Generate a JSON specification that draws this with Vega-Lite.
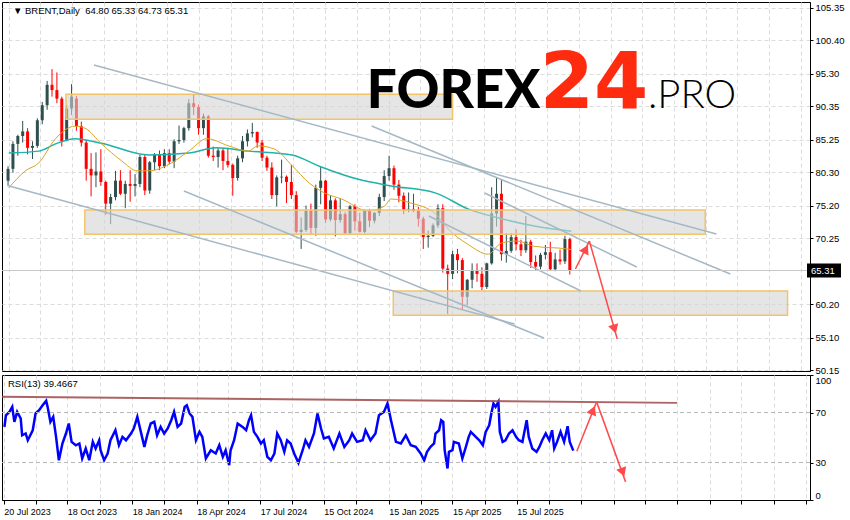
{
"$schema":"https://vega.github.io/schema/vega-lite/v6.json",
"padding":{"left":1,"top":1,"right":0,"bottom":0},
"background":"white",
"spacing":4,
"bounds":"flush",
"config":{"view":{"stroke":"#000","strokeWidth":1},"font":"Liberation Sans","axis":{"labelFont":"Liberation Sans","labelFontSize":9.5,"labelColor":"#000","domainColor":"#000","tickColor":"#000","gridColor":"#dcdcdc","gridDash":[4,3],"labelOverlap":false}},
"datasets":{
"candles":[
{"d":"2023-07-19","o":79.0,"h":81.2,"l":78.3,"c":80.8},
{"d":"2023-07-26","o":80.8,"h":85.0,"l":80.2,"c":84.6},
{"d":"2023-08-02","o":84.6,"h":86.0,"l":82.8,"c":85.8},
{"d":"2023-08-09","o":85.8,"h":88.1,"l":84.8,"c":86.5},
{"d":"2023-08-16","o":86.5,"h":87.0,"l":83.0,"c":84.0},
{"d":"2023-08-23","o":84.0,"h":85.0,"l":82.3,"c":84.3},
{"d":"2023-08-30","o":84.3,"h":88.5,"l":84.0,"c":88.2},
{"d":"2023-09-06","o":88.2,"h":91.0,"l":87.6,"c":90.5},
{"d":"2023-09-13","o":90.5,"h":94.2,"l":89.8,"c":93.6},
{"d":"2023-09-20","o":93.6,"h":96.0,"l":91.8,"c":92.8},
{"d":"2023-09-27","o":92.8,"h":95.5,"l":90.8,"c":91.5},
{"d":"2023-10-04","o":91.5,"h":91.8,"l":84.2,"c":85.0},
{"d":"2023-10-11","o":85.2,"h":90.5,"l":85.0,"c":90.0},
{"d":"2023-10-18","o":90.0,"h":93.7,"l":89.0,"c":91.8},
{"d":"2023-10-25","o":91.5,"h":91.9,"l":86.6,"c":87.3},
{"d":"2023-11-01","o":87.3,"h":88.0,"l":84.2,"c":84.8},
{"d":"2023-11-08","o":84.8,"h":85.2,"l":79.0,"c":80.8},
{"d":"2023-11-15","o":80.8,"h":83.2,"l":76.6,"c":79.8},
{"d":"2023-11-22","o":79.8,"h":83.3,"l":78.0,"c":80.4},
{"d":"2023-11-29","o":80.4,"h":83.8,"l":78.2,"c":78.8},
{"d":"2023-12-06","o":78.8,"h":79.0,"l":73.8,"c":75.5},
{"d":"2023-12-13","o":75.5,"h":77.0,"l":72.4,"c":76.5},
{"d":"2023-12-20","o":76.5,"h":80.5,"l":76.0,"c":79.0},
{"d":"2023-12-27","o":79.0,"h":80.6,"l":76.8,"c":77.0},
{"d":"2024-01-03","o":77.0,"h":79.0,"l":74.8,"c":78.5},
{"d":"2024-01-10","o":78.5,"h":80.6,"l":75.8,"c":78.2},
{"d":"2024-01-17","o":78.2,"h":80.0,"l":76.6,"c":78.5},
{"d":"2024-01-24","o":78.5,"h":83.0,"l":78.0,"c":82.6},
{"d":"2024-01-31","o":82.6,"h":83.0,"l":76.8,"c":77.5},
{"d":"2024-02-07","o":77.5,"h":82.0,"l":77.0,"c":81.8},
{"d":"2024-02-14","o":81.8,"h":83.2,"l":80.6,"c":83.0},
{"d":"2024-02-21","o":83.0,"h":83.6,"l":80.6,"c":81.2},
{"d":"2024-02-28","o":81.2,"h":83.8,"l":80.9,"c":83.2},
{"d":"2024-03-06","o":83.2,"h":83.8,"l":81.5,"c":81.9},
{"d":"2024-03-13","o":81.9,"h":85.3,"l":80.9,"c":85.0},
{"d":"2024-03-20","o":85.0,"h":87.4,"l":84.6,"c":85.2},
{"d":"2024-03-27","o":85.2,"h":87.2,"l":84.8,"c":87.0},
{"d":"2024-04-03","o":87.0,"h":91.4,"l":86.6,"c":90.8},
{"d":"2024-04-10","o":90.8,"h":92.2,"l":89.0,"c":90.2},
{"d":"2024-04-17","o":90.2,"h":90.6,"l":86.0,"c":87.0},
{"d":"2024-04-24","o":87.0,"h":89.2,"l":86.0,"c":88.8},
{"d":"2024-05-01","o":88.8,"h":89.0,"l":82.5,"c":82.8},
{"d":"2024-05-08","o":82.8,"h":84.2,"l":82.0,"c":82.6},
{"d":"2024-05-15","o":82.6,"h":84.0,"l":81.0,"c":83.6},
{"d":"2024-05-22","o":83.6,"h":84.0,"l":80.6,"c":82.0},
{"d":"2024-05-29","o":82.0,"h":84.0,"l":81.0,"c":81.4},
{"d":"2024-06-05","o":81.4,"h":81.6,"l":76.7,"c":79.4},
{"d":"2024-06-12","o":79.4,"h":82.8,"l":79.0,"c":82.4},
{"d":"2024-06-19","o":82.4,"h":85.8,"l":81.8,"c":85.0},
{"d":"2024-06-26","o":85.0,"h":86.8,"l":84.2,"c":86.2},
{"d":"2024-07-03","o":86.2,"h":87.8,"l":85.6,"c":86.4},
{"d":"2024-07-10","o":86.4,"h":86.5,"l":84.0,"c":84.8},
{"d":"2024-07-17","o":84.8,"h":85.2,"l":82.0,"c":82.5},
{"d":"2024-07-24","o":82.5,"h":82.8,"l":80.5,"c":81.0},
{"d":"2024-07-31","o":81.0,"h":81.8,"l":76.2,"c":76.8},
{"d":"2024-08-07","o":76.8,"h":79.8,"l":75.1,"c":79.5},
{"d":"2024-08-14","o":79.5,"h":82.2,"l":78.6,"c":79.6},
{"d":"2024-08-21","o":79.6,"h":79.8,"l":75.6,"c":78.8},
{"d":"2024-08-28","o":78.8,"h":81.4,"l":76.2,"c":76.8},
{"d":"2024-09-04","o":76.8,"h":77.4,"l":71.0,"c":71.2},
{"d":"2024-09-11","o":71.2,"h":73.4,"l":68.6,"c":71.5},
{"d":"2024-09-18","o":71.5,"h":75.2,"l":71.2,"c":74.4},
{"d":"2024-09-25","o":74.4,"h":75.5,"l":70.8,"c":71.8},
{"d":"2024-10-02","o":71.8,"h":78.4,"l":70.6,"c":77.9},
{"d":"2024-10-09","o":77.9,"h":81.2,"l":75.4,"c":79.0},
{"d":"2024-10-16","o":79.0,"h":79.1,"l":72.6,"c":73.1},
{"d":"2024-10-23","o":73.1,"h":76.7,"l":72.8,"c":76.0},
{"d":"2024-10-30","o":76.0,"h":76.3,"l":70.5,"c":73.0},
{"d":"2024-11-06","o":73.0,"h":76.3,"l":72.6,"c":73.9},
{"d":"2024-11-13","o":73.9,"h":74.2,"l":70.8,"c":71.0},
{"d":"2024-11-20","o":71.0,"h":75.3,"l":70.9,"c":75.1},
{"d":"2024-11-27","o":75.1,"h":75.4,"l":71.4,"c":72.8},
{"d":"2024-12-04","o":72.8,"h":74.1,"l":71.1,"c":71.2},
{"d":"2024-12-11","o":71.2,"h":74.6,"l":71.0,"c":74.4},
{"d":"2024-12-18","o":74.4,"h":74.7,"l":71.9,"c":72.9},
{"d":"2024-12-25","o":72.9,"h":74.2,"l":72.5,"c":74.1},
{"d":"2025-01-01","o":74.1,"h":77.0,"l":73.6,"c":76.5},
{"d":"2025-01-08","o":76.5,"h":80.6,"l":75.9,"c":79.7},
{"d":"2025-01-15","o":79.7,"h":82.8,"l":79.0,"c":80.9},
{"d":"2025-01-22","o":80.9,"h":81.3,"l":77.6,"c":78.4},
{"d":"2025-01-29","o":78.4,"h":79.1,"l":75.7,"c":76.7},
{"d":"2025-02-05","o":76.7,"h":77.2,"l":73.9,"c":74.6},
{"d":"2025-02-12","o":74.6,"h":77.2,"l":74.2,"c":74.7},
{"d":"2025-02-19","o":74.7,"h":77.0,"l":74.2,"c":74.4},
{"d":"2025-02-26","o":74.4,"h":75.0,"l":72.0,"c":73.2},
{"d":"2025-03-05","o":73.2,"h":73.5,"l":68.6,"c":70.4},
{"d":"2025-03-12","o":70.4,"h":71.4,"l":68.8,"c":70.6},
{"d":"2025-03-19","o":70.6,"h":72.5,"l":70.4,"c":72.2},
{"d":"2025-03-26","o":72.2,"h":75.4,"l":71.8,"c":74.8},
{"d":"2025-04-02","o":74.8,"h":75.4,"l":65.0,"c":65.6},
{"d":"2025-04-09","o":65.6,"h":66.2,"l":58.7,"c":64.8},
{"d":"2025-04-16","o":64.8,"h":68.3,"l":64.0,"c":67.8},
{"d":"2025-04-23","o":67.8,"h":68.6,"l":64.9,"c":66.9},
{"d":"2025-04-30","o":66.9,"h":67.2,"l":59.4,"c":61.3},
{"d":"2025-05-07","o":61.3,"h":64.0,"l":60.0,"c":63.9},
{"d":"2025-05-14","o":63.9,"h":66.4,"l":62.6,"c":65.4},
{"d":"2025-05-21","o":65.4,"h":66.4,"l":63.6,"c":64.8},
{"d":"2025-05-28","o":64.8,"h":65.8,"l":62.3,"c":62.8},
{"d":"2025-06-04","o":62.8,"h":66.5,"l":62.5,"c":66.4},
{"d":"2025-06-11","o":66.4,"h":78.0,"l":66.2,"c":74.0},
{"d":"2025-06-18","o":74.0,"h":79.5,"l":72.0,"c":77.0},
{"d":"2025-06-25","o":77.0,"h":79.2,"l":66.8,"c":67.8},
{"d":"2025-07-02","o":67.8,"h":71.0,"l":66.5,"c":68.3},
{"d":"2025-07-09","o":68.3,"h":71.0,"l":68.0,"c":70.4},
{"d":"2025-07-16","o":70.4,"h":71.6,"l":68.4,"c":69.3},
{"d":"2025-07-23","o":69.3,"h":70.0,"l":67.5,"c":68.4},
{"d":"2025-07-30","o":68.4,"h":73.6,"l":68.0,"c":69.7},
{"d":"2025-08-06","o":69.7,"h":70.0,"l":65.7,"c":66.6},
{"d":"2025-08-13","o":66.6,"h":67.6,"l":65.3,"c":65.9},
{"d":"2025-08-20","o":65.9,"h":68.0,"l":65.5,"c":67.7},
{"d":"2025-08-27","o":67.7,"h":69.2,"l":67.0,"c":68.1},
{"d":"2025-09-03","o":68.1,"h":69.7,"l":65.3,"c":65.5},
{"d":"2025-09-10","o":65.5,"h":68.0,"l":65.2,"c":67.0},
{"d":"2025-09-17","o":67.0,"h":68.5,"l":66.2,"c":66.7},
{"d":"2025-09-24","o":66.7,"h":70.6,"l":66.3,"c":70.1},
{"d":"2025-10-01","o":70.1,"h":70.3,"l":64.7,"c":65.31}
],
"rsi":[
{"d":"2023-07-21","r":58.5},{"d":"2023-07-23","r":67.8},{"d":"2023-07-28","r":70.5},{"d":"2023-08-01","r":74.5},{"d":"2023-08-04","r":62.5},{"d":"2023-08-08","r":70.5},{"d":"2023-08-13","r":65.2},{"d":"2023-08-15","r":51.8},{"d":"2023-08-20","r":53.2},{"d":"2023-08-23","r":47.8},{"d":"2023-08-30","r":55.8},{"d":"2023-09-03","r":69.2},{"d":"2023-09-08","r":71.8},{"d":"2023-09-13","r":75.8},{"d":"2023-09-18","r":79.3},{"d":"2023-09-20","r":74.5},{"d":"2023-09-24","r":62.5},{"d":"2023-09-28","r":66.5},{"d":"2023-10-02","r":50.5},{"d":"2023-10-06","r":31.8},{"d":"2023-10-11","r":45.2},{"d":"2023-10-16","r":53.2},{"d":"2023-10-20","r":61.2},{"d":"2023-10-24","r":46.5},{"d":"2023-10-30","r":43.8},{"d":"2023-11-04","r":45.2},{"d":"2023-11-08","r":33.2},{"d":"2023-11-13","r":41.2},{"d":"2023-11-18","r":31.8},{"d":"2023-11-23","r":46.5},{"d":"2023-11-27","r":41.2},{"d":"2023-12-02","r":47.8},{"d":"2023-12-04","r":39.8},{"d":"2023-12-09","r":31.8},{"d":"2023-12-14","r":37.2},{"d":"2023-12-18","r":47.8},{"d":"2023-12-25","r":55.8},{"d":"2023-12-30","r":43.8},
{"d":"2024-01-04","r":50.5},{"d":"2024-01-09","r":47.8},{"d":"2024-01-16","r":53.2},{"d":"2024-01-20","r":57.2},{"d":"2024-01-25","r":66.5},{"d":"2024-01-30","r":54.5},{"d":"2024-02-04","r":42.5},{"d":"2024-02-08","r":51.8},{"d":"2024-02-13","r":61.2},{"d":"2024-02-18","r":62.5},{"d":"2024-02-22","r":51.8},{"d":"2024-02-27","r":58.5},{"d":"2024-03-03","r":53.2},{"d":"2024-03-08","r":57.2},{"d":"2024-03-13","r":63.8},{"d":"2024-03-17","r":70.5},{"d":"2024-03-22","r":58.5},{"d":"2024-03-27","r":61.2},{"d":"2024-04-01","r":74.5},{"d":"2024-04-04","r":75.8},{"d":"2024-04-08","r":69.2},{"d":"2024-04-12","r":66.5},{"d":"2024-04-17","r":47.8},{"d":"2024-04-22","r":54.5},{"d":"2024-04-26","r":50.5},{"d":"2024-05-01","r":33.2},{"d":"2024-05-08","r":39.8},{"d":"2024-05-15","r":37.2},{"d":"2024-05-20","r":43.8},{"d":"2024-05-25","r":34.5},{"d":"2024-05-29","r":39.8},{"d":"2024-06-03","r":27.8},{"d":"2024-06-05","r":39.8},{"d":"2024-06-10","r":47.8},{"d":"2024-06-15","r":61.2},{"d":"2024-06-22","r":58.5},{"d":"2024-06-27","r":55.8},{"d":"2024-07-01","r":63.8},{"d":"2024-07-04","r":67.8},{"d":"2024-07-08","r":54.5},{"d":"2024-07-13","r":50.5},{"d":"2024-07-18","r":45.2},{"d":"2024-07-22","r":47.8},{"d":"2024-07-27","r":34.5},{"d":"2024-08-01","r":31.8},{"d":"2024-08-06","r":37.2},{"d":"2024-08-10","r":53.2},{"d":"2024-08-15","r":47.8},{"d":"2024-08-20","r":38.5},{"d":"2024-08-24","r":47.8},{"d":"2024-08-29","r":45.2},{"d":"2024-09-03","r":37.2},{"d":"2024-09-09","r":29.7},{"d":"2024-09-15","r":39.8},{"d":"2024-09-19","r":47.8},{"d":"2024-09-24","r":42.5},{"d":"2024-10-01","r":53.2},{"d":"2024-10-06","r":69.2},{"d":"2024-10-11","r":57.2},{"d":"2024-10-15","r":49.2},{"d":"2024-10-22","r":50.5},{"d":"2024-10-29","r":41.2},{"d":"2024-11-06","r":53.2},{"d":"2024-11-13","r":42.5},{"d":"2024-11-20","r":47.8},{"d":"2024-11-24","r":53.2},{"d":"2024-12-01","r":46.5},{"d":"2024-12-09","r":47.8},{"d":"2024-12-13","r":55.8},{"d":"2024-12-20","r":47.8},{"d":"2024-12-27","r":53.2},
{"d":"2025-01-01","r":67.8},{"d":"2025-01-08","r":70.5},{"d":"2025-01-13","r":77.2},{"d":"2025-01-18","r":63.8},{"d":"2025-01-25","r":46.5},{"d":"2025-02-01","r":45.2},{"d":"2025-02-08","r":51.8},{"d":"2025-02-15","r":43.8},{"d":"2025-02-22","r":42.5},{"d":"2025-03-01","r":37.2},{"d":"2025-03-06","r":31.8},{"d":"2025-03-10","r":38.5},{"d":"2025-03-15","r":42.5},{"d":"2025-03-20","r":45.2},{"d":"2025-03-22","r":53.2},{"d":"2025-03-27","r":55.8},{"d":"2025-03-30","r":63.8},{"d":"2025-04-02","r":62.5},{"d":"2025-04-04","r":39.8},{"d":"2025-04-08","r":25.2},{"d":"2025-04-10","r":38.5},{"d":"2025-04-15","r":39.8},{"d":"2025-04-17","r":46.5},{"d":"2025-04-24","r":45.2},{"d":"2025-04-29","r":33.2},{"d":"2025-05-04","r":42.5},{"d":"2025-05-08","r":50.5},{"d":"2025-05-11","r":54.5},{"d":"2025-05-18","r":50.5},{"d":"2025-05-23","r":47.8},{"d":"2025-05-28","r":43.8},{"d":"2025-06-01","r":54.5},{"d":"2025-06-06","r":59.8},{"d":"2025-06-09","r":69.2},{"d":"2025-06-12","r":77.2},{"d":"2025-06-15","r":74.5},{"d":"2025-06-19","r":78.5},{"d":"2025-06-21","r":54.5},{"d":"2025-06-25","r":46.5},{"d":"2025-06-29","r":47.8},{"d":"2025-07-04","r":53.2},{"d":"2025-07-09","r":55.8},{"d":"2025-07-14","r":50.5},{"d":"2025-07-18","r":47.8},{"d":"2025-07-23","r":46.5},{"d":"2025-07-29","r":63.8},{"d":"2025-08-01","r":50.5},{"d":"2025-08-06","r":41.2},{"d":"2025-08-12","r":38.5},{"d":"2025-08-16","r":42.5},{"d":"2025-08-20","r":47.8},{"d":"2025-08-25","r":53.2},{"d":"2025-08-30","r":47.8},{"d":"2025-09-03","r":55.8},{"d":"2025-09-06","r":41.2},{"d":"2025-09-10","r":46.5},{"d":"2025-09-15","r":54.5},{"d":"2025-09-20","r":46.5},{"d":"2025-09-25","r":59.0},{"d":"2025-09-28","r":46.5},{"d":"2025-10-03","r":39.5}
],
"ma50":[
{"d":"2023-07-20","v":77.9},{"d":"2023-08-13","v":80.5},{"d":"2023-09-01","v":81.7},{"d":"2023-09-25","v":85.4},{"d":"2023-10-23","v":87.3},{"d":"2023-11-06","v":87.0},{"d":"2023-11-30","v":84.6},{"d":"2023-12-29","v":82.0},{"d":"2024-01-20","v":80.5},{"d":"2024-02-06","v":80.5},{"d":"2024-03-06","v":81.5},{"d":"2024-04-03","v":83.5},{"d":"2024-04-29","v":85.4},{"d":"2024-05-30","v":84.3},{"d":"2024-06-27","v":83.5},{"d":"2024-07-11","v":84.3},{"d":"2024-08-04","v":83.8},{"d":"2024-08-29","v":81.3},{"d":"2024-09-23","v":78.6},{"d":"2024-10-15","v":77.1},{"d":"2024-11-08","v":76.2},{"d":"2024-12-16","v":74.4},{"d":"2025-01-08","v":75.1},{"d":"2025-01-18","v":76.2},{"d":"2025-02-15","v":75.6},{"d":"2025-03-23","v":73.9},{"d":"2025-04-10","v":71.6},{"d":"2025-05-08","v":69.3},{"d":"2025-06-06","v":67.8},{"d":"2025-06-25","v":69.5},{"d":"2025-07-18","v":69.8},{"d":"2025-08-11","v":69.0},{"d":"2025-09-27","v":68.6},{"d":"2025-10-03","v":68.5}
],
"ma200":[
{"d":"2023-07-20","v":83.2},{"d":"2023-09-01","v":83.5},{"d":"2023-09-25","v":84.6},{"d":"2023-10-23","v":85.4},{"d":"2023-11-30","v":84.7},{"d":"2024-02-06","v":82.9},{"d":"2024-04-03","v":83.2},{"d":"2024-05-12","v":84.0},{"d":"2024-06-27","v":83.5},{"d":"2024-08-29","v":82.9},{"d":"2024-10-07","v":81.2},{"d":"2024-12-02","v":79.2},{"d":"2025-01-18","v":78.2},{"d":"2025-03-23","v":77.1},{"d":"2025-05-08","v":74.7},{"d":"2025-06-25","v":73.2},{"d":"2025-08-11","v":72.1},{"d":"2025-10-03","v":71.3}
],
"boxes":[
{"d":"2023-10-10","d2":"2025-04-16","p":92.16,"p2":88.35},
{"d":"2023-11-06","d2":"2026-04-13","p":74.53,"p2":70.83},
{"d":"2025-01-21","d2":"2026-08-09","p":62.19,"p2":58.48}
],
"lines":[
{"d":"2023-11-19","d2":"2026-04-29","p":96.62,"p2":70.87},
{"d":"2024-12-21","d2":"2026-05-19","p":87.33,"p2":64.78},
{"d":"2025-06-01","d2":"2026-01-05","p":77.12,"p2":65.84},
{"d":"2025-03-13","d2":"2025-10-17","p":73.61,"p2":62.19},
{"d":"2024-03-27","d2":"2025-08-25","p":77.42,"p2":55.02},
{"d":"2023-07-18","d2":"2025-07-14","p":78.25,"p2":57.16}
],
"arrowsMain":[
{"d":"2025-10-09","d2":"2025-10-29","p":65.54,"p2":69.8},
{"d":"2025-10-29","d2":"2025-12-08","p":69.8,"p2":54.87}
],
"arrowsRsi":[
{"d":"2025-10-08","d2":"2025-11-05","p":39.0,"p2":78.5},
{"d":"2025-11-05","d2":"2025-12-16","p":78.5,"p2":14.5}
]
},
"vconcat":[
{
"width":808,"height":369,
"layer":[
{"data":{"name":"candles"},"mark":{"type":"rule","strokeWidth":1,"clip":true},
"encoding":{
"x":{"field":"d","type":"temporal","title":null,"scale":{"type":"utc","domain":[{"year":2023,"month":7,"date":17,"hours":12,"utc":true},{"year":2026,"month":9,"date":3,"utc":true}]},
"axis":{"orient":"bottom","labels":false,"ticks":false,"domain":false,"grid":true,"tickCount":100,"values":[{"year":2023,"month":7,"date":20,"utc":true},{"year":2023,"month":9,"date":3,"utc":true},{"year":2023,"month":10,"date":18,"utc":true},{"year":2023,"month":12,"date":3,"utc":true},{"year":2024,"month":1,"date":18,"utc":true},{"year":2024,"month":3,"date":3,"utc":true},{"year":2024,"month":4,"date":18,"utc":true},{"year":2024,"month":6,"date":2,"utc":true},{"year":2024,"month":7,"date":17,"utc":true},{"year":2024,"month":8,"date":31,"utc":true},{"year":2024,"month":10,"date":15,"utc":true},{"year":2024,"month":11,"date":30,"utc":true},{"year":2025,"month":1,"date":15,"utc":true},{"year":2025,"month":3,"date":1,"utc":true},{"year":2025,"month":4,"date":15,"utc":true},{"year":2025,"month":5,"date":31,"utc":true},{"year":2025,"month":7,"date":15,"utc":true},{"year":2025,"month":8,"date":30,"utc":true},{"year":2025,"month":10,"date":14,"utc":true},{"year":2025,"month":11,"date":29,"utc":true},{"year":2026,"month":1,"date":13,"utc":true},{"year":2026,"month":2,"date":27,"utc":true},{"year":2026,"month":4,"date":14,"utc":true},{"year":2026,"month":5,"date":29,"utc":true},{"year":2026,"month":7,"date":14,"utc":true},{"year":2026,"month":8,"date":28,"utc":true}]}},
"y":{"field":"l","type":"quantitative","title":null,"scale":{"domain":[50.0,106.22],"zero":false,"nice":false},
"axis":{"orient":"right","tickCount":100,"values":[50.15,55.1,60.2,70.25,75.2,80.3,85.25,90.35,95.3,100.4,105.35],"labelExpr":"format(datum.value, '.2f')","labelOverlap":false,"labelBound":false,"tickSize":3,"labelPadding":2,"grid":true,"domain":true}},
"y2":{"field":"h"},
"color":{"condition":{"test":"datum.c >= datum.o","value":"#2f4f4f"},"value":"#ff0000"}}},
{"data":{"name":"candles"},"mark":{"type":"bar","width":3,"clip":true},
"encoding":{"x":{"field":"d","type":"temporal","title":null},"y":{"field":"o","type":"quantitative","title":null},"y2":{"field":"c"},
"color":{"condition":{"test":"datum.c >= datum.o","value":"#2f4f4f"},"value":"#ff0000"}}},
{"data":{"name":"ma200"},"mark":{"type":"line","color":"#20b2aa","strokeWidth":1.5,"interpolate":"monotone","clip":true},
"encoding":{"x":{"field":"d","type":"temporal","title":null},"y":{"field":"v","type":"quantitative","title":null}}},
{"data":{"name":"ma50"},"mark":{"type":"line","color":"#daa520","strokeWidth":1,"interpolate":"monotone","clip":true},
"encoding":{"x":{"field":"d","type":"temporal","title":null},"y":{"field":"v","type":"quantitative","title":null}}},
{"data":{"name":"boxes"},"mark":{"type":"rect","fill":"#d4d4d4","fillOpacity":0.6,"stroke":"#f2c46a","strokeWidth":1.5,"clip":true},
"encoding":{"x":{"field":"d","type":"temporal","title":null},"x2":{"field":"d2"},"y":{"field":"p","type":"quantitative","title":null},"y2":{"field":"p2"}}},
{"data":{"name":"lines"},"mark":{"type":"rule","color":"#a5b8c5","strokeWidth":1.5,"clip":true},
"encoding":{"x":{"field":"d","type":"temporal","title":null},"x2":{"field":"d2"},"y":{"field":"p","type":"quantitative","title":null},"y2":{"field":"p2"}}},
{"data":{"values":[{"p":65.31}]},"mark":{"type":"rule","color":"#c8c8c8","strokeWidth":1},
"encoding":{"y":{"field":"p","type":"quantitative","title":null}}},
{"data":{"name":"arrowsMain"},"mark":{"type":"rule","color":"#ff4a4a","strokeWidth":1.5,"clip":true},
"encoding":{"x":{"field":"d","type":"temporal","title":null},"x2":{"field":"d2"},"y":{"field":"p","type":"quantitative","title":null},"y2":{"field":"p2"}}},
{"data":{"values":[{"d":"2025-10-24","p":68.58}]},"mark":{"type":"point","shape":"triangle-up","angle":27,"filled":true,"color":"#ff4a4a","opacity":1,"size":110},
"encoding":{"x":{"field":"d","type":"temporal","title":null},"y":{"field":"p","type":"quantitative","title":null}}},
{"data":{"values":[{"d":"2025-12-04","p":56.39}]},"mark":{"type":"point","shape":"triangle-down","angle":344,"filled":true,"color":"#ff4a4a","opacity":1,"size":110},
"encoding":{"x":{"field":"d","type":"temporal","title":null},"y":{"field":"p","type":"quantitative","title":null}}},
{"data":{"values":[{"d":"2024-12-14","p":90.1,"t":"FOREX"}]},"mark":{"type":"text","font":"Lato","fontWeight":900,"fontSize":53,"align":"left","baseline":"alphabetic","color":"#000"},
"encoding":{"x":{"field":"d","type":"temporal","title":null},"y":{"field":"p","type":"quantitative","title":null},"text":{"field":"t"}}},
{"data":{"values":[{"d":"2025-08-19","p":90.1,"t":"24"}]},"mark":{"type":"text","font":"DejaVu Sans","fontWeight":700,"fontSize":78,"align":"left","baseline":"alphabetic","color":"#ff2b0f"},
"encoding":{"x":{"field":"d","type":"temporal","title":null},"y":{"field":"p","type":"quantitative","title":null},"text":{"field":"t"}}},
{"data":{"values":[{"d":"2026-01-21","p":90.1,"t":".PRO"}]},"mark":{"type":"text","font":"Lato","fontWeight":300,"fontSize":40,"align":"left","baseline":"alphabetic","color":"#000"},
"encoding":{"x":{"field":"d","type":"temporal","title":null},"y":{"field":"p","type":"quantitative","title":null},"text":{"field":"t"}}},
{"data":{"values":[{"d":"2023-07-26","p":104.35,"t":"▼ BRENT,Daily\u00a0\u00a064.80 65.33 64.73 65.31"}]},"mark":{"type":"text","font":"Liberation Sans","fontSize":9.5,"align":"left","baseline":"alphabetic","color":"#000"},
"encoding":{"x":{"field":"d","type":"temporal","title":null},"y":{"field":"p","type":"quantitative","title":null},"text":{"field":"t"}}},
{"data":{"values":[{"d":"2026-09-03","p":65.31}]},"mark":{"type":"rect","color":"#000","clip":false,"xOffset":2,"x2Offset":36,"yOffset":-7,"y2Offset":7},
"encoding":{"x":{"field":"d","type":"temporal","title":null},"x2":{"field":"d"},"y":{"field":"p","type":"quantitative","title":null},"y2":{"field":"p"}}},
{"data":{"values":[{"d":"2026-09-03","p":65.31,"t":"65.31"}]},"mark":{"type":"text","clip":false,"dx":6,"align":"left","baseline":"middle","color":"#fff","font":"Liberation Sans","fontSize":9.5},
"encoding":{"x":{"field":"d","type":"temporal","title":null},"y":{"field":"p","type":"quantitative","title":null},"text":{"field":"t"}}}
]
},
{
"width":808,"height":125,
"layer":[
{"data":{"name":"rsi"},"mark":{"type":"line","color":"#0000ff","strokeWidth":2.5,"clip":true},
"encoding":{
"x":{"field":"d","type":"temporal","title":null,"scale":{"type":"utc","domain":[{"year":2023,"month":7,"date":17,"hours":12,"utc":true},{"year":2026,"month":9,"date":3,"utc":true}]},
"axis":{"orient":"bottom","grid":true,"tickCount":100,"labelExpr":"utcdate(datum.value) >= 15 && utcdate(datum.value) <= 20 ? utcFormat(datum.value, '%d %b %Y') : ''","labelAlign":"left","labelPadding":3,"labelFontSize":9,"labelOverlap":false,"labelBound":false,"tickSize":4,"domain":true,"values":[{"year":2023,"month":7,"date":20,"utc":true},{"year":2023,"month":9,"date":3,"utc":true},{"year":2023,"month":10,"date":18,"utc":true},{"year":2023,"month":12,"date":3,"utc":true},{"year":2024,"month":1,"date":18,"utc":true},{"year":2024,"month":3,"date":3,"utc":true},{"year":2024,"month":4,"date":18,"utc":true},{"year":2024,"month":6,"date":2,"utc":true},{"year":2024,"month":7,"date":17,"utc":true},{"year":2024,"month":8,"date":31,"utc":true},{"year":2024,"month":10,"date":15,"utc":true},{"year":2024,"month":11,"date":30,"utc":true},{"year":2025,"month":1,"date":15,"utc":true},{"year":2025,"month":3,"date":1,"utc":true},{"year":2025,"month":4,"date":15,"utc":true},{"year":2025,"month":5,"date":31,"utc":true},{"year":2025,"month":7,"date":15,"utc":true},{"year":2025,"month":8,"date":30,"utc":true},{"year":2025,"month":10,"date":14,"utc":true},{"year":2025,"month":11,"date":29,"utc":true},{"year":2026,"month":1,"date":13,"utc":true},{"year":2026,"month":2,"date":27,"utc":true},{"year":2026,"month":4,"date":14,"utc":true},{"year":2026,"month":5,"date":29,"utc":true},{"year":2026,"month":7,"date":14,"utc":true},{"year":2026,"month":8,"date":28,"utc":true}]}},
"y":{"field":"r","type":"quantitative","title":null,"scale":{"domain":[0,100],"nice":false,"zero":false},
"axis":{"orient":"right","values":[0,30,70,100],"grid":false,"tickSize":3,"labelPadding":2,"labelFlush":true,"labelOverlap":false,"domain":true}}}},
{"data":{"values":[{"v":30},{"v":70}]},"mark":{"type":"rule","color":"#b8b8b8","strokeDash":[4,3],"strokeWidth":1},
"encoding":{"y":{"field":"v","type":"quantitative","title":null}}},
{"data":{"values":[{"d":"2023-07-17","d2":"2026-02-27","p":82.6,"p2":77.7}]},"mark":{"type":"rule","color":"#9c4848","strokeWidth":2,"opacity":0.85,"clip":true},
"encoding":{"x":{"field":"d","type":"temporal","title":null},"x2":{"field":"d2"},"y":{"field":"p","type":"quantitative","title":null},"y2":{"field":"p2"}}},
{"data":{"name":"arrowsRsi"},"mark":{"type":"rule","color":"#ff4a4a","strokeWidth":1.5,"clip":true},
"encoding":{"x":{"field":"d","type":"temporal","title":null},"x2":{"field":"d2"},"y":{"field":"p","type":"quantitative","title":null},"y2":{"field":"p2"}}},
{"data":{"values":[{"d":"2025-10-31","p":71.8}]},"mark":{"type":"point","shape":"triangle-up","angle":23,"filled":true,"color":"#ff4a4a","opacity":1,"size":110},
"encoding":{"x":{"field":"d","type":"temporal","title":null},"y":{"field":"p","type":"quantitative","title":null}}},
{"data":{"values":[{"d":"2025-12-12","p":22.2}]},"mark":{"type":"point","shape":"triangle-down","angle":340,"filled":true,"color":"#ff4a4a","opacity":1,"size":110},
"encoding":{"x":{"field":"d","type":"temporal","title":null},"y":{"field":"p","type":"quantitative","title":null}}},
{"data":{"values":[{"d":"2023-07-26","p":90.5,"t":"RSI(13) 39.4667"}]},"mark":{"type":"text","font":"Liberation Sans","fontSize":9.5,"align":"left","baseline":"alphabetic","color":"#000"},
"encoding":{"x":{"field":"d","type":"temporal","title":null},"y":{"field":"p","type":"quantitative","title":null},"text":{"field":"t"}}}
]
}
]
}
